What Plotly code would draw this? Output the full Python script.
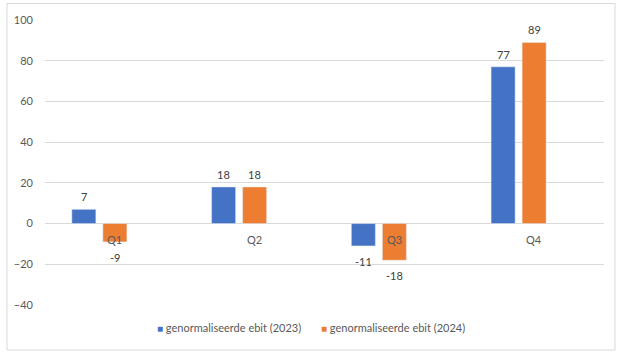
import plotly.graph_objects as go

categories = ["Q1", "Q2", "Q3", "Q4"]
ebit_2023 = [7, 18, -11, 77]
ebit_2024 = [-9, 18, -18, 89]
series_names = ["genormaliseerde ebit (2023)", "genormaliseerde ebit (2024)"]
series_colors = ["#4472C4", "#ED7D31"]
y_ticks = [-40, -20, 0, 20, 40, 60, 80, 100]

FONT = "Lato"
TXT = "#595959"

fig = go.Figure()
series = [(ebit_2023, series_names[0], series_colors[0], -0.308, -31),
          (ebit_2024, series_names[1], series_colors[1], -0.086, 0)]
for vals, name, col, off, xs in series:
    fig.add_trace(go.Bar(x=categories, y=vals, name=name, marker_color=col,
                         width=0.172, offset=off, hoverinfo="x+y"))
    for c, v in zip(categories, vals):
        fig.add_annotation(x=c, y=v, text=str(v), showarrow=False, xshift=xs,
                           yanchor="bottom" if v >= 0 else "top",
                           yshift=4 if v >= 0 else -7,
                           font=dict(size=11, color="#404040", family=FONT))

for c in categories:
    fig.add_annotation(x=c, y=0, text=c, showarrow=False, yanchor="top", yshift=-7,
                       font=dict(size=11, color=TXT, family=FONT))

# custom legend
for name, col, xpos in [(series_names[0], series_colors[0], 0.196),
                        (series_names[1], series_colors[1], 0.49)]:
    fig.add_annotation(xref="paper", yref="paper", x=xpos, y=-0.078,
                       xanchor="left", yanchor="middle", showarrow=False,
                       text=f"<span style='color:{col};font-size:10px'>■</span> {name}",
                       font=dict(size=11, color=TXT, family=FONT))

fig.add_shape(type="rect", xref="paper", yref="paper", x0=-0.068, x1=1.0197,
              y0=-0.158, y1=1.058, line=dict(color="#d9d9d9", width=1), layer="below")

fig.update_layout(
    width=623, height=354,
    margin=dict(l=45, r=19, t=19.5, b=49),
    paper_bgcolor="white", plot_bgcolor="white",
    barmode="overlay",
    font=dict(family=FONT, size=11, color=TXT),
    showlegend=False,
    xaxis=dict(showticklabels=False, showgrid=False, zeroline=False, showline=False),
    yaxis=dict(range=[-40, 100], tickvals=y_ticks, showgrid=True, gridcolor="#d9d9d9",
               zeroline=True, zerolinecolor="#d9d9d9", zerolinewidth=1,
               tickfont=dict(size=11, color=TXT, family=FONT), ticks="", ticklabelstandoff=11),
)

fig.write_html("out.html")
